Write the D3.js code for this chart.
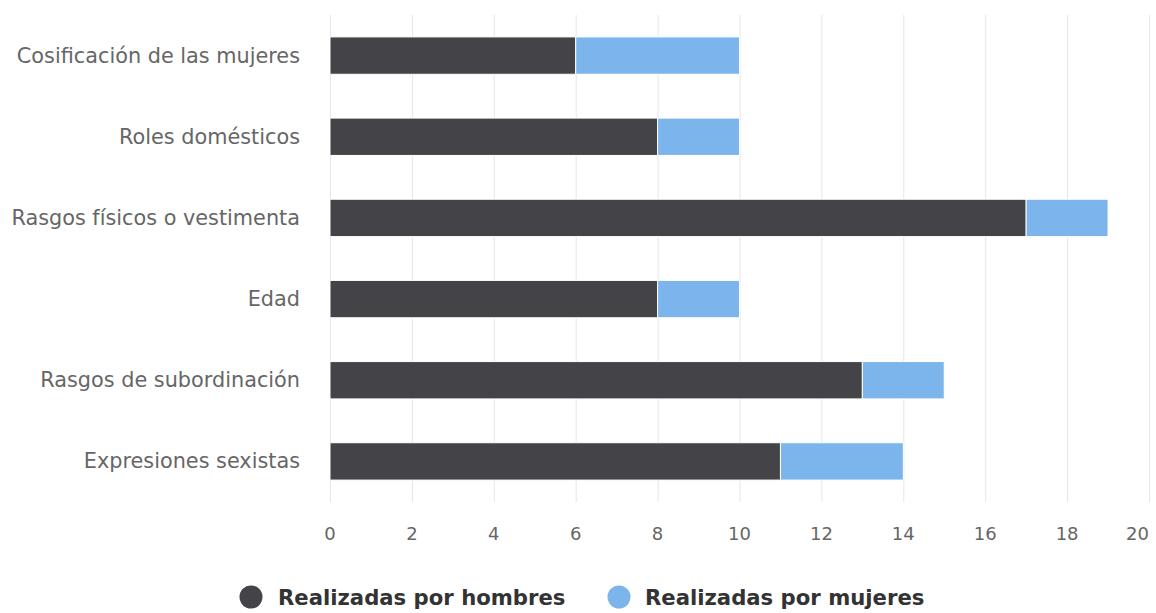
<!DOCTYPE html>
<html><head><meta charset="utf-8">
<script src="https://cdn.jsdelivr.net/npm/d3@7"></script>
<style>body{margin:0;background:#fff;}svg{display:block;font-family:"DejaVu Sans",sans-serif;}</style>
</head><body>
<svg id="c" width="1156" height="613"></svg>
<script>
const categories = ["Cosificación de las mujeres","Roles domésticos","Rasgos físicos o vestimenta","Edad","Rasgos de subordinación","Expresiones sexistas"];
const hombres = [6, 8, 17, 8, 13, 11];
const mujeres = [4, 2, 2, 2, 2, 3];
const seriesNames = ["Realizadas por hombres","Realizadas por mujeres"];
const colors = ["#434348","#7cb5ec"];
const xTicks = [0,2,4,6,8,10,12,14,16,18,20];

const svg = d3.select("#c");
const m = {l:330, r:1149, t:15, b:502};
const x = d3.scaleLinear().domain([0,20]).range([m.l, m.r]);
const y = d3.scaleBand().domain(categories).range([m.t, m.b]).paddingInner(0.54).paddingOuter(0.27);

// grid
svg.append("g").selectAll("line").data(xTicks).join("line")
  .attr("x1", d=>x(d)+0.5).attr("x2", d=>x(d)+0.5).attr("y1", m.t).attr("y2", m.b)
  .attr("stroke", "#e6e6e6").attr("stroke-width", 1);

// stacked data
const rows = categories.map((c,i)=>({cat:c, hombres:hombres[i], mujeres:mujeres[i]}));
const stack = d3.stack().keys(["hombres","mujeres"])(rows);
svg.append("g").selectAll("g").data(stack).join("g")
  .attr("fill", (d,i)=>colors[i])
  .selectAll("rect").data(d=>d).join("rect")
  .attr("x", d=>x(d[0])).attr("width", d=>x(d[1])-x(d[0]))
  .attr("y", d=>y(d.data.cat)).attr("height", y.bandwidth())
  .attr("stroke", "#fff").attr("stroke-width", 1);

// y labels
svg.append("g").selectAll("text").data(categories).join("text")
  .attr("x", 300).attr("y", d=>y(d)+y.bandwidth()/2)
  .attr("text-anchor","end").attr("dominant-baseline","central")
  .attr("fill","#666").attr("font-size", 20.8).text(d=>d);

// x labels
svg.append("g").selectAll("text").data(xTicks).join("text")
  .attr("x", (d,i)=> i===xTicks.length-1 ? 1149 : x(d))
  .attr("y", 533)
  .attr("text-anchor", (d,i)=> i===xTicks.length-1 ? "end" : "middle")
  .attr("dominant-baseline","central")
  .attr("fill","#666").attr("font-size", 18).text(d=>d);

// legend
const leg = [{x:251, tx:278},{x:619, tx:645}];
const lg = svg.append("g");
seriesNames.forEach((n,i)=>{
  lg.append("circle").attr("cx", leg[i].x).attr("cy", 597).attr("r", 11.5).attr("fill", colors[i]);
  lg.append("text").attr("x", leg[i].tx).attr("y", 597).attr("dominant-baseline","central")
    .attr("font-weight","bold").attr("font-size", 21.2).attr("fill","#333").text(n);
});
</script>
</body></html>
